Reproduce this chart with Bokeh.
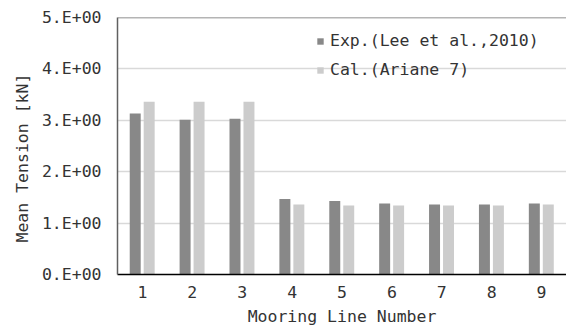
from bokeh.embed import file_html
from bokeh.resources import INLINE
from bokeh.plotting import figure
from bokeh.models import (ColumnDataSource, FixedTicker, Range1d, Legend,
                          LegendItem, Span, Title)
from bokeh.transform import dodge

# Mooring line numbers and mean tensions [kN]
lines = [1, 2, 3, 4, 5, 6, 7, 8, 9]
exp_tension = [3.13, 3.01, 3.03, 1.47, 1.43, 1.38, 1.36, 1.36, 1.38]
cal_tension = [3.36, 3.36, 3.36, 1.36, 1.34, 1.34, 1.34, 1.34, 1.36]

y_ticks = [0, 1, 2, 3, 4, 5]
y_tick_labels = ["0.E+00", "1.E+00", "2.E+00", "3.E+00", "4.E+00", "5.E+00"]
x_tick_labels = ["1", "2", "3", "4", "5", "6", "7", "8", "9"]

series_names = ["Exp.(Lee et al.,2010)", "Cal.(Ariane 7)"]

FONT = "DejaVu Sans Mono"
TEXT_COLOR = "#333333"

src = ColumnDataSource(dict(x=lines, exp=exp_tension, cal=cal_tension))

p = figure(width=566, height=333, output_backend="svg", toolbar_location=None,
           x_range=Range1d(0.5, 9.5), y_range=Range1d(0, 5),
           min_border_left=117, min_border_right=0,
           min_border_top=17, min_border_bottom=59)

p.outline_line_color = None
p.background_fill_color = "white"
p.border_fill_color = "white"

bar_w = 0.22
r_exp = p.vbar(x=dodge("x", -0.145, range=p.x_range), top="exp", width=bar_w,
               source=src, fill_color="#888888", line_color=None)
r_cal = p.vbar(x=dodge("x", 0.135, range=p.x_range), top="cal", width=bar_w,
               source=src, fill_color="#cccccc", line_color=None)

# grid
p.xgrid.grid_line_color = None
p.ygrid.ticker = FixedTicker(ticks=y_ticks)
p.ygrid.grid_line_color = "#d9d9d9"
p.ygrid.grid_line_width = 1.5

# top border line at 5.0
p.add_layout(Span(location=5, dimension="width", line_color="#6a6a6a",
                  line_width=1.5))

# y axis
p.yaxis.ticker = FixedTicker(ticks=y_ticks)
p.yaxis.major_label_overrides = {t: l for t, l in zip(y_ticks, y_tick_labels)}
p.yaxis.axis_line_color = "#606060"
p.yaxis.axis_line_width = 1.5
p.yaxis.major_tick_line_color = None
p.yaxis.minor_tick_line_color = None
p.yaxis.major_tick_out = 0
p.yaxis.major_tick_in = 0
p.yaxis.major_label_standoff = 16
p.yaxis.major_label_text_font = FONT
p.yaxis.major_label_text_font_size = "16.5px"
p.yaxis.major_label_text_color = TEXT_COLOR

# x axis
p.xaxis.ticker = FixedTicker(ticks=lines)
p.xaxis.major_label_overrides = {t: l for t, l in zip(lines, x_tick_labels)}
p.xaxis.axis_line_color = "#000000"
p.xaxis.axis_line_width = 1.5
p.xaxis.major_tick_line_color = None
p.xaxis.minor_tick_line_color = None
p.xaxis.major_tick_out = 0
p.xaxis.major_tick_in = 0
p.xaxis.major_label_standoff = 11
p.xaxis.major_label_text_font = FONT
p.xaxis.major_label_text_font_size = "16.5px"
p.xaxis.major_label_text_color = TEXT_COLOR
p.xaxis.axis_label = "Mooring Line Number"
p.xaxis.axis_label_standoff = 6
p.xaxis.axis_label_text_font = FONT
p.xaxis.axis_label_text_font_size = "16.5px"
p.xaxis.axis_label_text_font_style = "normal"
p.xaxis.axis_label_text_color = TEXT_COLOR

# y axis title, placed as a side title so it can sit off-centre
p.add_layout(Title(text="Mean Tension [kN]", align="left", offset=32,
                   standoff=14, text_font=FONT, text_font_size="16.5px",
                   text_font_style="normal", text_color=TEXT_COLOR), "left")

legend = Legend(items=[LegendItem(label=series_names[0], renderers=[r_exp]),
                       LegendItem(label=series_names[1], renderers=[r_cal])],
                location=(199, 195), orientation="vertical",
                glyph_width=8, glyph_height=8, label_standoff=6,
                spacing=10, padding=0, margin=0,
                border_line_color=None, background_fill_alpha=0,
                label_text_font=FONT, label_text_font_size="16.5px",
                label_text_color=TEXT_COLOR)
p.add_layout(legend)

open("out.html", "w").write(file_html(p, INLINE))
